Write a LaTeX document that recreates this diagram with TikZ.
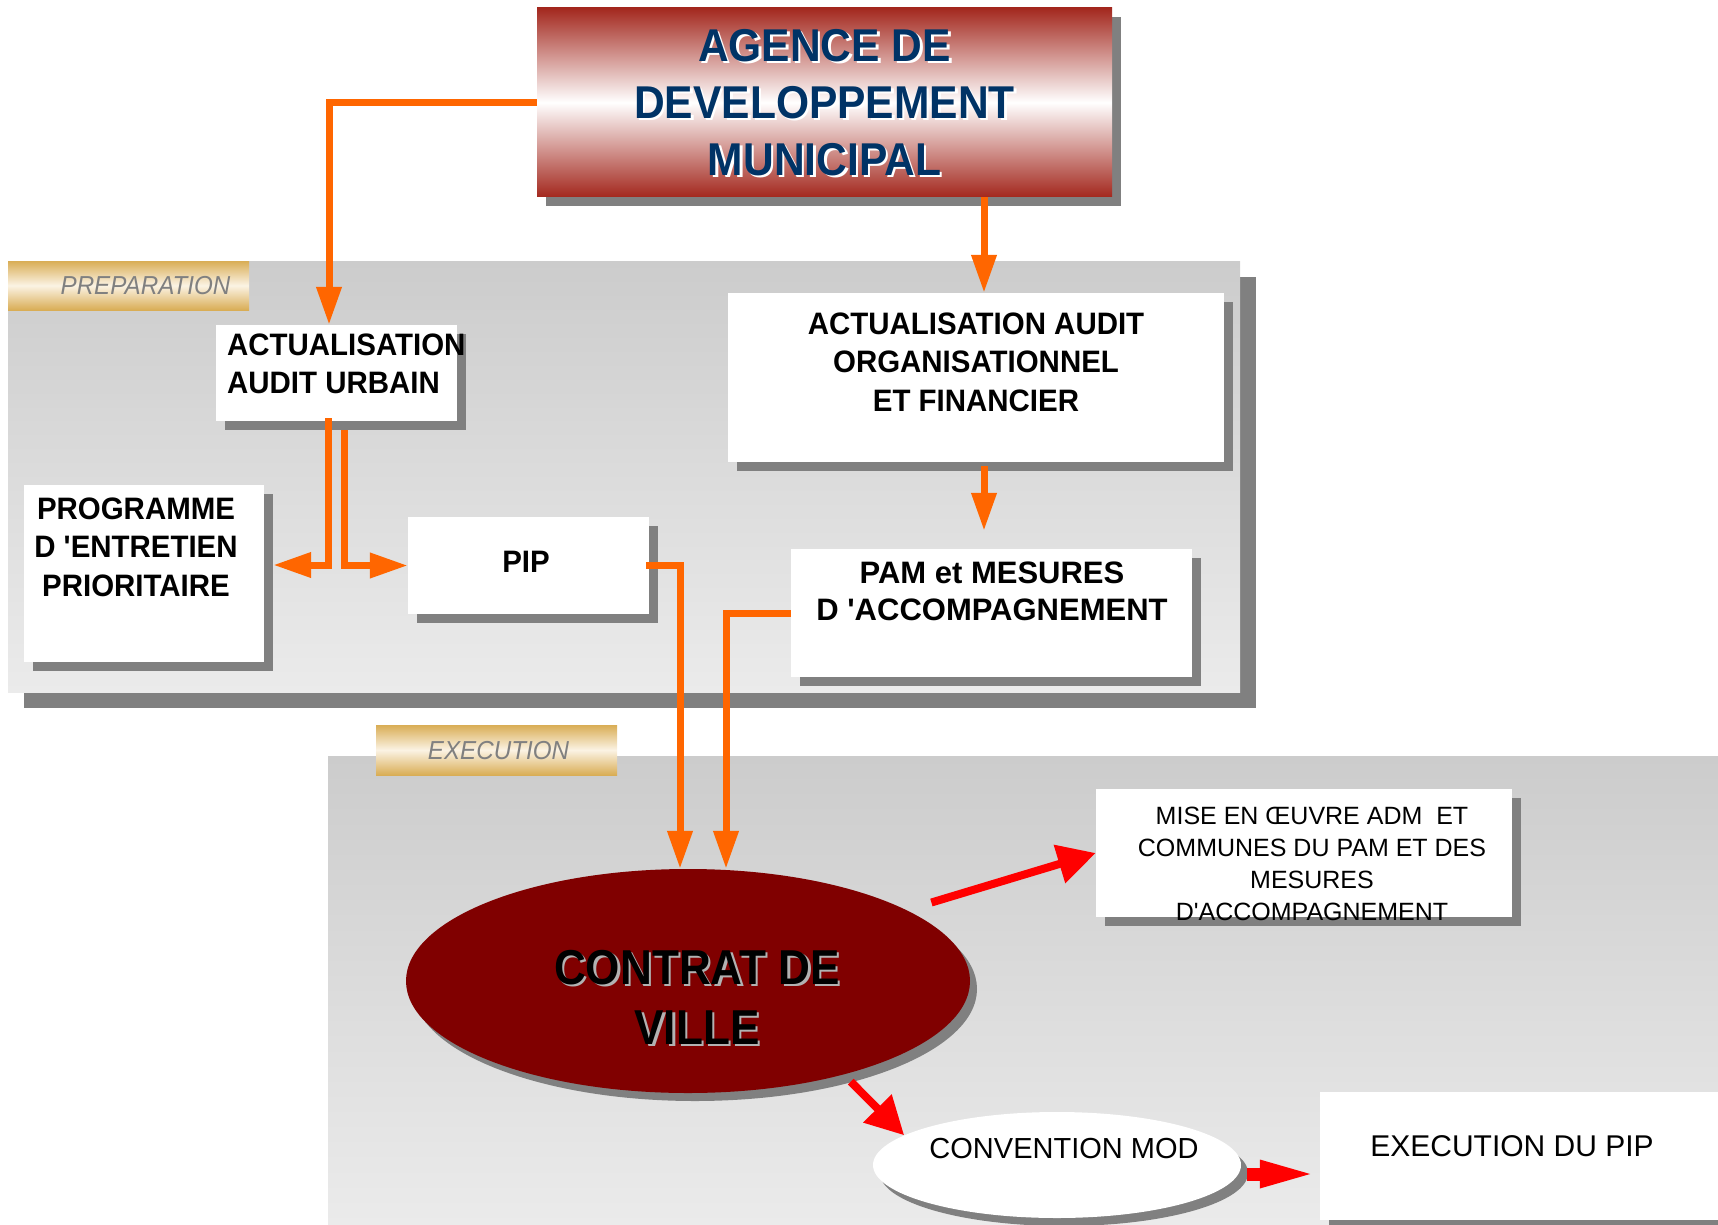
\documentclass[tikz,border=0pt]{standalone}
\usepackage{fontspec}
\setmainfont{Liberation Sans}
\newfontfamily\fnttitle[FakeStretch=0.925]{Liberation Sans}
\newfontfamily\fntbox[FakeStretch=0.95]{Liberation Sans}
\newfontfamily\fntpam[FakeStretch=1.0]{Liberation Sans}
\newfontfamily\fntlabel[FakeStretch=0.93]{Liberation Sans}
\newfontfamily\fntcontrat[FakeStretch=0.9]{Liberation Sans}
\newfontfamily\fntplain{Liberation Sans}
\usetikzlibrary{arrows.meta,calc,shapes.geometric,shadows}
\definecolor{admRed}{HTML}{A3281E}
\definecolor{titleBlue}{HTML}{003366}
\definecolor{contratRed}{HTML}{800000}
\definecolor{orangeC}{HTML}{FF6600}
\definecolor{redC}{HTML}{FF0000}
\definecolor{goldC}{HTML}{D9AD55}
\definecolor{creamC}{HTML}{FBF3E4}
\definecolor{labelGray}{HTML}{808080}
\definecolor{panelTop}{HTML}{CCCCCC}
\definecolor{panelBot}{HTML}{EBEBEB}
\definecolor{shadowGray}{HTML}{808080}
\tikzset{
  shbox/.style={rectangle, fill=white, inner sep=0pt,
    drop shadow={shadow xshift=9pt, shadow yshift=-9pt, opacity=1, fill=shadowGray}},
  shell/.style={ellipse, inner sep=0pt,
    drop shadow={shadow xshift=7pt, shadow yshift=-8pt, opacity=1, fill=shadowGray}},
  txt/.style={inner sep=0pt, align=center},
  boxtext/.style={txt, font=\fntbox\bfseries\fontsize{31}{38.5}\selectfont},
  labeltext/.style={txt, text=labelGray, font=\fntlabel\itshape\fontsize{26}{30}\selectfont},
  oarrow/.style={draw=orangeC, line width=7pt, -{Triangle[length=38pt,width=24pt]}},
  rarrow/.style={draw=redC, line width=8pt, -{Triangle[length=38pt,width=38pt]}},
  goldlabel/.style={top color=goldC, bottom color=goldC, middle color=creamC},
  panel/.style={top color=panelTop, bottom color=panelBot}
}
\begin{document}
\begin{tikzpicture}[x=1pt,y=-1pt]
\useasboundingbox (0,0) rectangle (1718,1225);
% panels
\fill[shadowGray] (24,277) rectangle (1256,708);
\path[panel] (8,261) rectangle (1240,692);
\path[panel] (328,756) rectangle (1718,1225);
% labels
\path[goldlabel] (8,261) rectangle (249,310);
\node[labeltext] (prep-t) at (145.5,286) {PREPARATION};
\path[goldlabel] (376,725) rectangle (617,775);
\node[labeltext] (exec-t) at (498.5,751) {EXECUTION};
% boxes
\node[shbox, minimum width=575pt, minimum height=189pt, top color=admRed, bottom color=admRed, middle color=white] (adm) at (824.5,102.5) {};
\node[shbox, minimum width=241pt, minimum height=96pt] (urb) at (336.5,373) {};
\node[shbox, minimum width=240pt, minimum height=177pt] (prog) at (144,573.5) {};
\node[shbox, minimum width=241pt, minimum height=97pt] (pip) at (528.5,565.5) {};
\node[shbox, minimum width=496pt, minimum height=169pt] (org) at (976,377.5) {};
\node[shbox, minimum width=401pt, minimum height=128pt] (pam) at (991.5,613) {};
\node[shbox, minimum width=416pt, minimum height=128pt] (mise) at (1304,853) {};
\node[shbox, minimum width=398pt, minimum height=128pt] (execpip) at (1519,1156) {};
\node[shell, fill=contratRed, minimum width=564pt, minimum height=224pt] (contrat) at (688,981) {};
\node[shell, fill=white, minimum width=368pt, minimum height=106pt] (conv) at (1057,1165) {};
% orange connectors
\draw[oarrow] (adm.west) -| ($(urb.north)+(-7.5,0)$);
\draw[oarrow] ($(adm.south)+(159.5,0)$) -- ($(org.north)+(8,0)$);
\draw[oarrow, shorten >=18pt] ($(org.south)+(8,4)$) -- ($(pam.north)+(-7.5,0)$);
\draw[oarrow] ($(urb.south)+(-8.5,-3)$) |- ($(prog.east)+(9,-8.5)$);
\draw[oarrow] ($(urb.south)+(7.5,9)$) |- (pip.west);
\draw[oarrow] ($(pip.east)+(-3,0)$) -| ($(contrat.north)+(-8,0)$);
\draw[oarrow] (pam.west) -| ($(contrat.north)+(38,0)$);
% red connectors
\draw[rarrow, shorten <=26pt] (contrat.18) -- (mise.west);
\draw[rarrow, shorten <=10pt] (contrat.-31) -- (conv.169);
\draw[draw=redC, line width=13pt, -{Triangle[length=60pt,width=24pt]}] ($(conv.east)+(6,9)$) -- ($(execpip.west)+(0,18)$);
% texts
\node[txt, text=white, font=\fnttitle\bfseries\fontsize{46}{57}\selectfont] (adm-sh) at ($(adm.center)+(2.5,2.5)$) {AGENCE DE\\DEVELOPPEMENT\\MUNICIPAL};
\node[txt, text=titleBlue, font=\fnttitle\bfseries\fontsize{46}{57}\selectfont] (adm-t) at (adm.center) {AGENCE DE\\DEVELOPPEMENT\\MUNICIPAL};
\node[boxtext, align=left, anchor=west] (urb-t) at (227,364) {ACTUALISATION\\AUDIT URBAIN};
\node[boxtext] (prog-t) at (136,547) {PROGRAMME\\D 'ENTRETIEN\\PRIORITAIRE};
\node[boxtext] (pip-t) at (526,562) {PIP};
\node[boxtext] (org-t) at (976,362) {ACTUALISATION AUDIT\\ORGANISATIONNEL\\ET FINANCIER};
\node[boxtext, font=\fntpam\bfseries\fontsize{31}{37}\selectfont] (pam-t) at (992,591.5) {PAM et MESURES\\D 'ACCOMPAGNEMENT};
\node[txt, text=black!30, font=\fntcontrat\bfseries\fontsize{49}{60}\selectfont] (contrat-sh) at (699.5,999.5) {CONTRAT DE\\VILLE};
\node[txt, text=black, font=\fntcontrat\bfseries\fontsize{49}{60}\selectfont] (contrat-t) at (697,997) {CONTRAT DE\\VILLE};
\node[txt, font=\fntplain\fontsize{25}{32}\selectfont] (mise-t) at (1312,864) {MISE EN ŒUVRE ADM\ \ ET\\COMMUNES DU PAM ET DES\\MESURES\\D'ACCOMPAGNEMENT};
\node[txt, font=\fntplain\fontsize{29}{34}\selectfont] (conv-t) at (1064,1149) {CONVENTION MOD};
\node[txt, font=\fntplain\fontsize{30}{36}\selectfont] (execpip-t) at (1512,1146) {EXECUTION DU PIP};
\end{tikzpicture}
\end{document}
